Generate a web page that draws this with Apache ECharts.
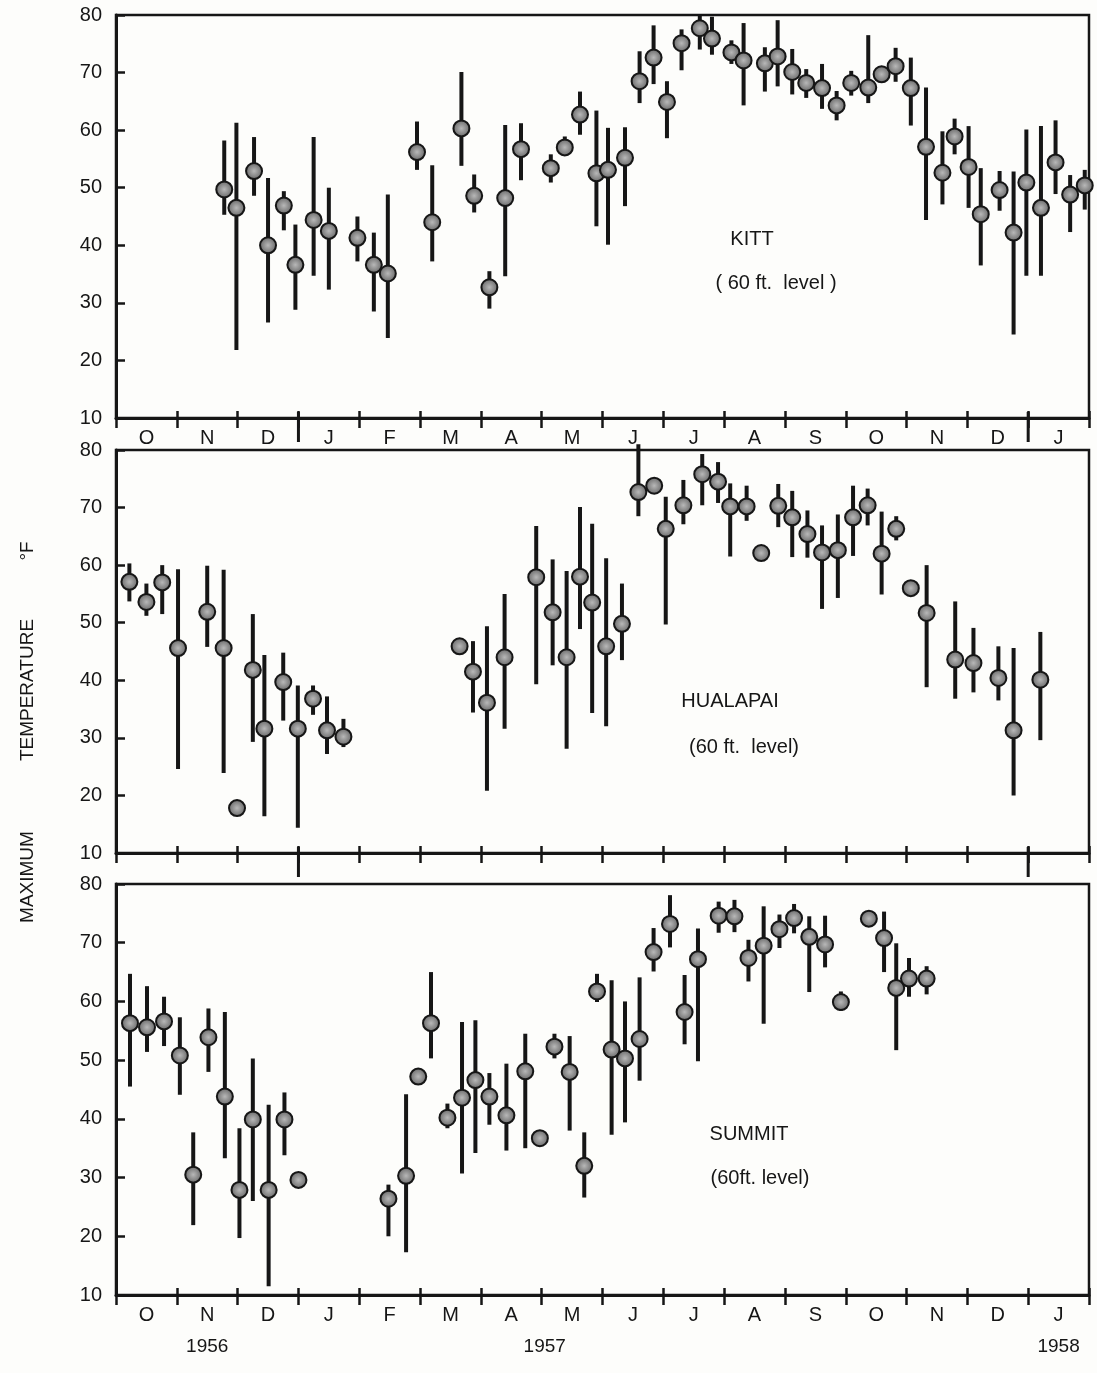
<!DOCTYPE html>
<html>
<head>
<meta charset="utf-8">
<script src="https://cdn.jsdelivr.net/npm/echarts@6/dist/echarts.min.js"></script>
<style>
html,body{margin:0;padding:0;background:#fdfdfb;}
#chart{width:1097px;height:1373px;}
</style>
</head>
<body>
<div id="chart"></div>
<script>
// ---- Data (x = months since 1 Oct 1956; values in °F) ----
const monthLabels = ['O','N','D','J','F','M','A','M','J','J','A','S','O','N','D','J'];
const yTicks = [10,20,30,40,50,60,70,80];
const yearLabels = ['1956','1957','1958'];
const yearLabelPos = [1.5, 7.05, 15.5];
const yearBoundaries = [3, 15];
const yTitleWords = ['MAXIMUM', 'TEMPERATURE', '°F'];

const kittX    = [1.78,1.98,2.27,2.50,2.76,2.95,3.25,3.50,3.97,4.24,4.47,4.95,5.20,5.68,5.89,6.14,6.40,6.66,7.15,7.38,7.63,7.90,8.09,8.37,8.61,8.84,9.06,9.30,9.60,9.80,10.12,10.32,10.67,10.88,11.12,11.35,11.61,11.85,12.09,12.37,12.59,12.82,13.07,13.32,13.59,13.79,14.02,14.22,14.53,14.76,14.97,15.21,15.45,15.69,15.93];
const kittMean = [49.7,46.5,52.9,40.0,46.9,36.6,44.4,42.5,41.3,36.6,35.1,56.2,44.0,60.3,48.6,32.7,48.2,56.7,53.4,57.0,62.7,52.5,53.1,55.2,68.5,72.6,64.9,75.1,77.7,75.9,73.5,72.1,71.6,72.8,70.1,68.2,67.3,64.3,68.2,67.4,69.7,71.1,67.3,57.1,52.6,58.9,53.6,45.4,49.6,42.2,50.9,46.5,54.4,48.8,50.4];
const kittLow  = [45.3,21.8,48.6,26.6,42.6,28.8,34.7,32.3,37.2,28.5,23.9,53.1,37.2,53.8,45.7,29.0,34.6,51.3,50.9,55.7,59.2,43.3,40.1,46.8,64.7,68.0,58.6,70.4,74.0,73.1,71.5,64.3,66.7,67.6,66.2,65.6,63.7,61.7,66.0,64.7,null,68.4,60.8,44.4,47.1,55.8,46.5,36.5,46.0,24.5,34.7,34.7,48.9,42.3,46.2];
const kittHigh = [58.2,61.3,58.8,51.7,49.4,43.6,58.8,50.0,45.0,42.2,48.8,61.5,53.9,70.1,52.3,35.5,60.9,61.2,55.8,58.9,66.7,63.4,60.4,60.5,73.7,78.2,68.5,77.5,80.0,79.7,75.6,78.6,74.4,79.1,74.1,70.6,71.5,66.8,70.3,76.5,null,74.3,72.6,67.4,59.8,62.0,60.7,53.4,52.9,52.8,60.1,60.7,61.7,52.2,53.1];

const hualX    = [0.22,0.50,0.76,1.02,1.50,1.77,1.99,2.25,2.44,2.75,2.99,3.24,3.47,3.74,5.65,5.87,6.10,6.39,6.91,7.18,7.41,7.63,7.83,8.06,8.32,8.59,8.85,9.04,9.33,9.64,9.90,10.10,10.37,10.61,10.89,11.12,11.37,11.61,11.87,12.12,12.36,12.59,12.83,13.07,13.33,13.80,14.10,14.51,14.76,15.20];
const hualMean = [57.1,53.6,57.0,45.6,51.9,45.6,17.8,41.8,31.6,39.7,31.6,36.8,31.3,30.2,45.9,41.5,36.1,44.0,57.9,51.8,44.0,58.0,53.5,45.9,49.8,72.7,73.8,66.3,70.4,75.8,74.5,70.2,70.2,62.1,70.3,68.3,65.4,62.2,62.6,68.3,70.4,62.0,66.3,56.0,51.7,43.6,43.0,40.4,31.3,40.1];
const hualLow  = [53.7,51.2,51.5,24.6,45.8,23.9,null,29.3,16.4,33.0,14.4,34.0,27.2,28.4,null,34.4,20.8,31.6,39.3,42.6,28.1,48.9,34.3,32.0,43.5,68.5,null,49.7,67.1,70.4,70.8,61.5,67.7,null,66.6,61.4,61.3,52.4,54.3,61.6,66.9,54.9,64.3,null,38.8,36.8,37.9,36.5,20.0,29.6];
const hualHigh = [60.3,56.8,60.0,59.3,59.9,59.2,null,51.5,44.4,44.8,39.1,39.1,37.2,33.3,null,46.8,49.4,55.0,66.8,61.0,59.0,70.1,67.2,61.2,56.8,81.0,null,71.9,74.8,79.3,77.9,74.2,73.8,null,74.1,72.9,69.5,66.9,68.8,73.8,73.3,69.3,68.5,null,60.0,53.7,49.1,45.9,45.6,48.4];

const summX    = [0.23,0.51,0.79,1.05,1.27,1.52,1.79,2.03,2.25,2.51,2.77,3.00,4.48,4.77,4.97,5.18,5.45,5.69,5.91,6.14,6.42,6.73,6.97,7.21,7.46,7.70,7.91,8.15,8.37,8.61,8.84,9.11,9.35,9.57,9.91,10.17,10.40,10.65,10.91,11.15,11.40,11.66,11.92,12.38,12.63,12.83,13.04,13.33];
const summMean = [56.3,55.6,56.6,50.8,30.5,53.9,43.8,27.9,39.9,27.9,39.9,29.6,26.4,30.3,47.2,56.3,40.2,43.6,46.6,43.8,40.6,48.1,36.7,52.3,48.0,32.0,61.7,51.8,50.3,53.6,68.4,73.2,58.2,67.2,74.6,74.5,67.4,69.5,72.3,74.2,71.0,69.7,59.9,74.1,70.8,62.3,63.9,63.9];
const summLow  = [45.5,51.4,52.4,44.1,21.9,48.0,33.3,19.7,26.0,11.5,33.8,null,20.0,17.3,null,50.3,38.4,30.7,34.2,39.0,34.6,35.0,null,50.3,38.0,26.6,59.9,37.3,39.4,46.5,65.1,69.2,52.7,49.8,71.7,71.8,63.4,56.2,69.1,71.6,61.6,65.8,58.4,null,65.0,51.7,60.8,61.2];
const summHigh = [64.7,62.6,60.8,57.3,37.7,58.8,58.2,38.4,50.3,42.4,44.5,null,28.8,44.2,null,65.0,42.6,56.5,56.8,47.8,49.4,54.5,null,54.5,54.1,37.7,64.7,63.6,60.0,64.1,72.5,78.1,64.5,72.4,77.0,77.3,70.5,76.2,74.8,76.6,74.5,74.6,61.7,null,75.3,69.9,67.4,66.0];

const panelNames = ['KITT','HUALAPAI','SUMMIT'];
const panelSub   = ['( 60 ft.  level )','(60 ft.  level)','(60ft. level)'];

// ---- Layout ----
const INK = '#161616';
const FONT = '"Liberation Sans", "DejaVu Sans", sans-serif';
const GL = 116, GW = 973;
const grids = [
  {left: GL, top: 15,  width: GW, height: 403},
  {left: GL, top: 450, width: GW, height: 403},
  {left: GL, top: 884, width: GW, height: 411}
];
const panels = [
  {x: kittX, m: kittMean, lo: kittLow, hi: kittHigh, labels: true,  longTicks: true},
  {x: hualX, m: hualMean, lo: hualLow, hi: hualHigh, labels: false, longTicks: true},
  {x: summX, m: summMean, lo: summLow, hi: summHigh, labels: true,  longTicks: false}
];

const xAxes = [], yAxes = [], series = [];
panels.forEach((p, g) => {
  const base = xAxes.length;
  xAxes.push({gridIndex: g, type: 'value', min: 0, max: 16, interval: 1,
    axisLine: {show: true, lineStyle: {color: INK, width: 3}},
    axisTick: {show: true, inside: true, length: 7, lineStyle: {color: INK, width: 2.5}},
    axisLabel: {show: false}, splitLine: {show: false}});
  xAxes.push({gridIndex: g, type: 'value', min: 0, max: 16, interval: 1, position: 'bottom',
    axisLine: {show: false},
    axisTick: {show: true, inside: false, length: 10, lineStyle: {color: INK, width: 2.5}},
    axisLabel: {show: false}, splitLine: {show: false}});
  if (p.labels) {
    xAxes.push({gridIndex: g, type: 'value', min: 0, max: 16, interval: 0.5, position: 'bottom',
      axisLine: {show: false}, axisTick: {show: false}, splitLine: {show: false},
      axisLabel: {show: true, margin: 10, fontSize: 20, fontFamily: FONT, color: INK,
        showMinLabel: false, showMaxLabel: false,
        formatter: v => (Math.abs((v % 1) - 0.5) < 1e-6) ? monthLabels[Math.floor(v)] : ''}});
  }
  yAxes.push({gridIndex: g, type: 'value', min: 10, max: 80, interval: 10,
    axisLine: {show: true, lineStyle: {color: INK, width: 3}},
    axisTick: {show: true, inside: true, length: 9, lineStyle: {color: INK, width: 2.5}},
    axisLabel: {margin: 14, fontSize: 20, fontFamily: FONT, color: INK},
    splitLine: {show: false}});

  const bars = [];
  p.x.forEach((x, i) => { if (p.lo[i] != null && p.hi[i] != null) bars.push([x, p.lo[i], p.hi[i]]); });
  series.push({type: 'custom', xAxisIndex: base, yAxisIndex: g, z: 2, clip: false,
    data: bars,
    renderItem: (params, api) => {
      const a = api.coord([api.value(0), api.value(1)]);
      const b = api.coord([api.value(0), api.value(2)]);
      return {type: 'line', shape: {x1: a[0], y1: a[1], x2: b[0], y2: b[1]},
        style: {stroke: INK, lineWidth: 4}};
    }});
  series.push({type: 'scatter', xAxisIndex: base, yAxisIndex: g, z: 3,
    data: p.x.map((x, i) => [x, p.m[i]]),
    symbol: 'circle', symbolSize: 16,
    itemStyle: {
      color: {type: 'radial', x: 0.5, y: 0.5, r: 0.5,
        colorStops: [{offset: 0, color: '#b8b8b8'}, {offset: 0.7, color: '#7e7e7e'}, {offset: 1, color: '#333'}]},
      borderColor: INK, borderWidth: 2, opacity: 1}});
  if (p.longTicks) {
    series.push({type: 'custom', xAxisIndex: base, yAxisIndex: g, z: 2, clip: false, silent: true,
      data: yearBoundaries.map(v => [v]),
      renderItem: (params, api) => {
        const a = api.coord([api.value(0), 10]);
        return {type: 'line', shape: {x1: a[0], y1: a[1] - 6, x2: a[0], y2: a[1] + 24},
          style: {stroke: INK, lineWidth: 3}};
      }});
  }
});

const monthPx = v => GL + GW * v / 16;
const txt = (x, y, t, size) => ({type: 'text', x: x, y: y,
  style: {text: t, font: size + 'px ' + FONT, fill: INK, align: 'center', verticalAlign: 'middle'}});
const graphic = [
  txt(752, 239, panelNames[0], 20), txt(776, 283, panelSub[0], 20),
  txt(730, 701, panelNames[1], 20), txt(744, 747, panelSub[1], 20),
  txt(749, 1134, panelNames[2], 20), txt(760, 1178, panelSub[2], 20)
];
const yTitleY = [877, 690, 551];
yTitleWords.forEach((w, i) => {
  const t = txt(28, yTitleY[i], w, 19);
  t.rotation = Math.PI / 2;
  graphic.push(t);
});
yearLabels.forEach((t, i) => graphic.push(txt(monthPx(yearLabelPos[i]), 1347, t, 19)));

const chart = echarts.init(document.getElementById('chart'), null, {renderer: 'canvas'});
chart.setOption({
  backgroundColor: '#fdfdfb',
  animation: false,
  grid: grids.map(g => Object.assign({show: true, borderColor: INK, borderWidth: 2.5, backgroundColor: 'transparent'}, g)),
  xAxis: xAxes,
  yAxis: yAxes,
  series: series,
  graphic: graphic
});
</script>
</body>
</html>
